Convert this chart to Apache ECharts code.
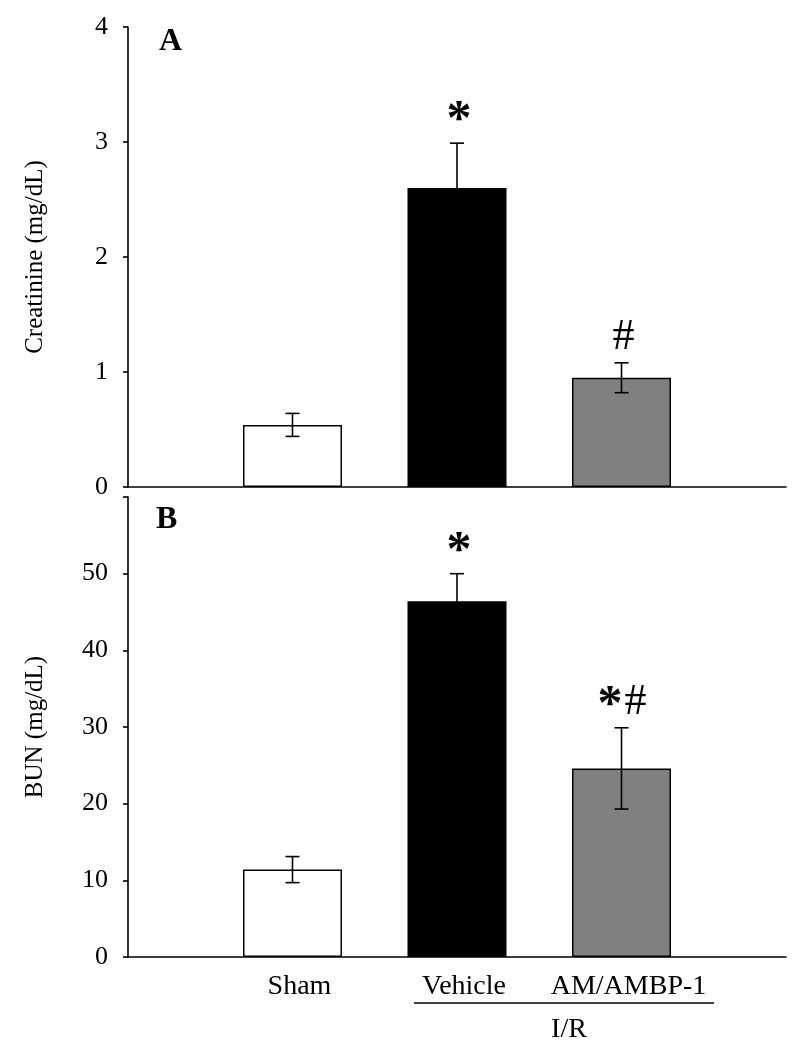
<!DOCTYPE html>
<html>
<head>
<meta charset="utf-8">
<script src="https://cdn.jsdelivr.net/npm/echarts@6/dist/echarts.min.js"></script>
<style>
  html, body { margin: 0; padding: 0; background: #ffffff; }
  #chart { width: 794px; height: 1050px; }
</style>
</head>
<body>
<div id="chart"></div>
<script>
// ---------- data ----------
const categories = ['', 'Sham', 'Vehicle', 'AM/AMBP-1', ''];
const creatinineMean = [null, 0.54, 2.60, 0.95, null];
const creatinineSE   = [null, 0.10, 0.39, 0.13, null];
const bunMean = [null, 11.4, 46.4, 24.6, null];
const bunSE   = [null, 1.7, 3.6, 5.3, null];
const creatinineMarks = ['', '', '*', '#', ''];
const bunMarks        = ['', '', '*', '*#', ''];
const barColors = ['#ffffff', '#ffffff', '#000000', '#808080', '#ffffff'];
const creatinineTicks = [0, 1, 2, 3, 4];
const creatinineTickLabels = ['0', '1', '2', '3', '4'];
const bunTicks = [0, 10, 20, 30, 40, 50, 60];
const bunTickLabels = ['0', '10', '20', '30', '40', '50', ''];

// ---------- helpers ----------
const FONT = '"Liberation Serif", "Times New Roman", serif';

function barData(means) {
  return means.map((v, i) => v == null ? '-' : {
    value: v,
    itemStyle: { color: barColors[i], borderColor: '#000', borderWidth: 1.5 }
  });
}
function errData(means, ses) {
  const out = [];
  means.forEach((m, i) => { if (m != null) out.push([i, m, ses[i]]); });
  return out;
}
function markData(means, ses, marks) {
  const out = [];
  means.forEach((m, i) => { if (m != null && marks[i]) out.push([i, m + ses[i], marks[i]]); });
  return out;
}
function renderErr(params, api) {
  const x = api.value(0), m = api.value(1), s = api.value(2);
  const top = api.coord([x, m + s]);
  const bot = api.coord([x, m - s]);
  const cap = 7;
  const st = { stroke: '#000', lineWidth: 1.6 };
  return { type: 'group', children: [
    { type: 'line', shape: { x1: top[0], y1: top[1], x2: bot[0], y2: bot[1] }, style: st },
    { type: 'line', shape: { x1: top[0] - cap, y1: top[1], x2: top[0] + cap, y2: top[1] }, style: st },
    { type: 'line', shape: { x1: bot[0] - cap, y1: bot[1], x2: bot[0] + cap, y2: bot[1] }, style: st }
  ]};
}
const glyphStyle = {
  '*': { fontSize: 50, fontWeight: 'bold', dy: -22, w: 24 },
  '#': { fontSize: 44, fontWeight: 'normal', dy: -25, w: 27 }
};
function makeRenderMark(markArr) {
  return function (params, api) {
    const x = api.value(0), top = api.value(1);
    const chars = markArr[params.dataIndex][2].split('');
    const p = api.coord([x, top]);
    const widths = chars.map(c => glyphStyle[c].w);
    const total = widths.reduce((a, b) => a + b, 0);
    let cx = p[0] - total / 2 + 2;
    const children = chars.map((c, k) => {
      const g = glyphStyle[c];
      const el = {
        type: 'text', x: cx + widths[k] / 2, y: p[1] + g.dy,
        style: { text: c, fontFamily: FONT, fontSize: g.fontSize, fontWeight: g.fontWeight,
                 fill: '#000', align: 'center', verticalAlign: 'middle' }
      };
      cx += widths[k];
      return el;
    });
    return { type: 'group', children };
  };
}

const axisLineStyle = { lineStyle: { color: '#000', width: 1.6 } };
const markA = markData(creatinineMean, creatinineSE, creatinineMarks);
const markB = markData(bunMean, bunSE, bunMarks);

const option = {
  backgroundColor: '#ffffff',
  animation: false,
  grid: [
    { left: 128, right: 8, top: 27, height: 460 },
    { left: 128, right: 8, top: 497, height: 460 }
  ],
  xAxis: [
    { type: 'category', gridIndex: 0, data: categories, boundaryGap: false,
      axisLine: axisLineStyle, axisTick: { show: false }, axisLabel: { show: false }, splitLine: { show: false } },
    { type: 'category', gridIndex: 1, data: categories, boundaryGap: false,
      axisLine: axisLineStyle, axisTick: { show: false },
      axisLabel: { show: true, interval: 0, fontFamily: FONT, fontSize: 28, color: '#000', margin: 16, padding: [0, 0, 0, 14] },
      splitLine: { show: false } }
  ],
  yAxis: [
    { type: 'value', gridIndex: 0, min: creatinineTicks[0], max: creatinineTicks[creatinineTicks.length - 1], interval: 1,
      name: 'Creatinine (mg/dL)', nameLocation: 'middle', nameGap: 80,
      nameTextStyle: { fontFamily: FONT, fontSize: 25, color: '#000' },
      axisLine: { show: true, lineStyle: { color: '#000', width: 1.6 } },
      axisTick: { show: true, length: 5, lineStyle: { color: '#000', width: 1.6 } },
      axisLabel: { fontFamily: FONT, fontSize: 26, color: '#000', margin: 20,
        formatter: v => creatinineTickLabels[creatinineTicks.indexOf(v)] },
      splitLine: { show: false } },
    { type: 'value', gridIndex: 1, min: bunTicks[0], max: bunTicks[bunTicks.length - 1], interval: 10,
      name: 'BUN (mg/dL)', nameLocation: 'middle', nameGap: 80,
      nameTextStyle: { fontFamily: FONT, fontSize: 25, color: '#000' },
      axisLine: { show: true, lineStyle: { color: '#000', width: 1.6 } },
      axisTick: { show: true, length: 5, lineStyle: { color: '#000', width: 1.6 } },
      axisLabel: { fontFamily: FONT, fontSize: 26, color: '#000', margin: 20,
        formatter: v => bunTickLabels[bunTicks.indexOf(v)] },
      splitLine: { show: false } }
  ],
  series: [
    { type: 'bar', xAxisIndex: 0, yAxisIndex: 0, barWidth: 99, data: barData(creatinineMean) },
    { type: 'bar', xAxisIndex: 1, yAxisIndex: 1, barWidth: 99, data: barData(bunMean) },
    { type: 'custom', xAxisIndex: 0, yAxisIndex: 0, renderItem: renderErr, data: errData(creatinineMean, creatinineSE), z: 5 },
    { type: 'custom', xAxisIndex: 1, yAxisIndex: 1, renderItem: renderErr, data: errData(bunMean, bunSE), z: 5 },
    { type: 'custom', xAxisIndex: 0, yAxisIndex: 0, renderItem: makeRenderMark(markA), data: markA.map(d => [d[0], d[1]]), z: 6 },
    { type: 'custom', xAxisIndex: 1, yAxisIndex: 1, renderItem: makeRenderMark(markB), data: markB.map(d => [d[0], d[1]]), z: 6 }
  ],
  graphic: [
    { type: 'text', left: 159, top: 26, style: { text: 'A', fontFamily: FONT, fontSize: 32, fontWeight: 'bold', fill: '#000' } },
    { type: 'text', left: 156, top: 504, style: { text: 'B', fontFamily: FONT, fontSize: 32, fontWeight: 'bold', fill: '#000' } },
    { type: 'line', shape: { x1: 414, y1: 1003, x2: 714, y2: 1003 }, style: { stroke: '#000', lineWidth: 1.6 } },
    { type: 'text', x: 569, y: 1030, style: { text: 'I/R', fontFamily: FONT, fontSize: 28, fill: '#000', align: 'center', verticalAlign: 'middle' } }
  ]
};

const chart = echarts.init(document.getElementById('chart'), null, { renderer: 'canvas' });
chart.setOption(option);
</script>
</body>
</html>
